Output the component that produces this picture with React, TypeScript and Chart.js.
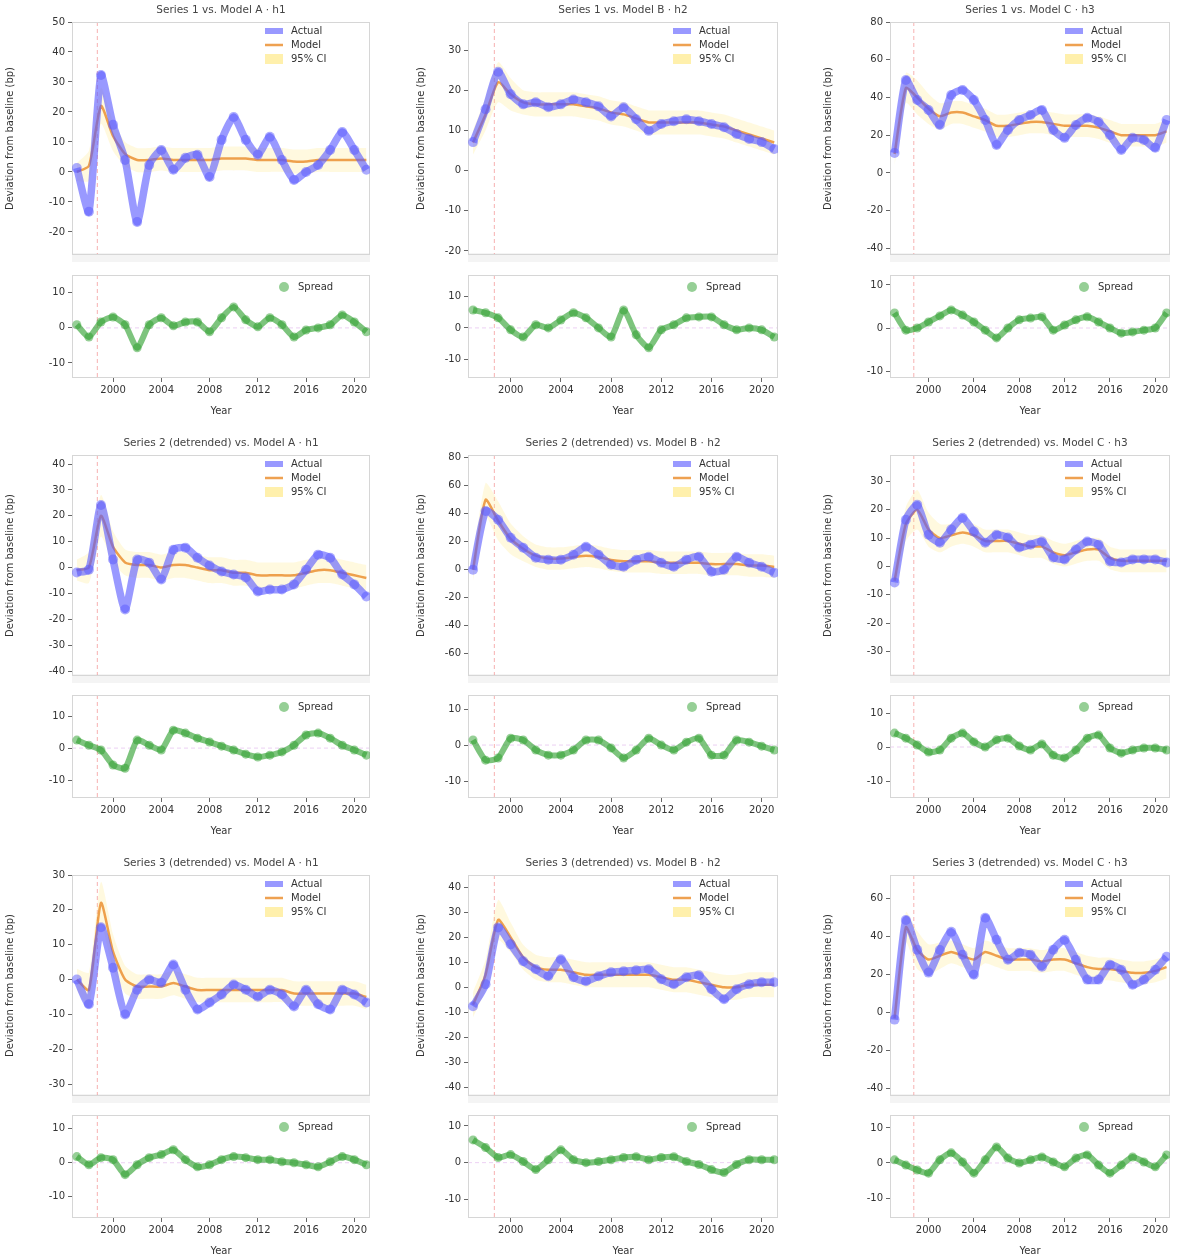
import React, { useEffect, useRef } from "react";
import { Chart, registerables } from "chart.js";
Chart.register(...registerables);

const FONT = "'DejaVu Sans', sans-serif";

// ---------- shared axis data ----------
const years = [1997, 1998, 1999, 2000, 2001, 2002, 2003, 2004, 2005, 2006, 2007, 2008, 2009, 2010, 2011, 2012, 2013, 2014, 2015, 2016, 2017, 2018, 2019, 2020, 2021];
const xTickYears = [2000, 2004, 2008, 2012, 2016, 2020];
const xBounds = [1996.6, 2021.3];
const eventYear = 1998.7;

const panelTitles = [
  "Series 1 vs. Model A · h1",
  "Series 1 vs. Model B · h2",
  "Series 1 vs. Model C · h3",
  "Series 2 (detrended) vs. Model A · h1",
  "Series 2 (detrended) vs. Model B · h2",
  "Series 2 (detrended) vs. Model C · h3",
  "Series 3 (detrended) vs. Model A · h1",
  "Series 3 (detrended) vs. Model B · h2",
  "Series 3 (detrended) vs. Model C · h3",
];
const yTitle = "Deviation from baseline (bp)";
const xTitle = "Year";
const topLegend = ["Actual", "Model", "95% CI"];
const bottomLegend = "Spread";

// ---------- per-panel values ----------
const actual11 = [1.3, -13.3, 32.3, 15.7, 4, -16.7, 2.3, 7.3, 0.7, 4.7, 5.7, -1.7, 10.7, 18.3, 10.7, 5.7, 11.7, 4, -2.7, 0, 2.3, 7.3, 13.3, 7.3, 0.7];
const model11 = [0, 2, 22, 12, 6, 4, 4, 4.5, 4, 4, 4, 4, 4.5, 4.5, 4.5, 4, 4, 4, 3.5, 3.5, 4, 4, 4, 4, 4];
const ci11 = [3, 5, 6, 5, 4, 4, 4, 4, 4, 4, 4, 4, 4, 4, 4, 4, 4, 4, 4, 4, 4, 4, 4, 4, 4];
const spread11 = [0.9, -2.6, 1.7, 3.1, 0.9, -5.7, 0.9, 2.9, 0.6, 1.7, 1.7, -1.1, 2.9, 6, 2.3, 0.3, 2.9, 0.9, -2.6, -0.6, 0, 0.9, 3.7, 1.7, -1.1];

const actual12 = [7.1, 15.3, 24.6, 19, 16.5, 17, 15.8, 16.5, 17.7, 17, 16, 13.5, 15.8, 12.8, 9.9, 11.6, 12.3, 12.8, 12.3, 11.6, 10.8, 9.1, 7.9, 7.1, 5.4];
const model12 = [7, 14, 22, 19, 17, 16.5, 16.5, 16.5, 16.5, 16, 15.5, 14.5, 14, 13, 12, 12, 12, 12, 12, 11.5, 11, 10, 9, 8, 7];
const ci12 = [3, 4, 5, 4, 3, 3, 3, 3, 3, 3, 3, 3, 3, 3, 3, 3, 3, 3, 3, 3, 3, 3, 3, 3, 3];
const spread12 = [5.7, 4.8, 3.2, -0.6, -2.9, 1, 0, 2.5, 4.8, 3.2, 0, -2.9, 5.7, -2.2, -6.3, -0.6, 1, 3.2, 3.5, 3.5, 1, -0.6, 0, -0.6, -2.9];

const actual13 = [10.6, 49.3, 38.7, 33.4, 25.4, 41.3, 44, 38.7, 28.1, 14.8, 22.8, 28.1, 30.7, 33.4, 22.8, 18.6, 25.4, 29.2, 27, 20.1, 12.2, 18.6, 17.5, 13.3, 28.1];
const model13 = [10, 45, 40, 34, 30, 32, 32, 30, 28, 25, 25, 26, 27, 27, 26, 25, 25, 25, 24, 22, 20, 20, 20, 20, 22];
const ci13 = [6, 8, 9, 8, 7, 6, 6, 6, 6, 6, 6, 6, 6, 6, 6, 6, 6, 6, 6, 6, 6, 6, 6, 6, 6];
const spread13 = [3.5, -0.5, 0, 1.4, 2.8, 4.2, 3, 1.4, -0.5, -2.3, 0, 1.9, 2.3, 2.6, -0.5, 0.7, 1.9, 2.6, 1.4, 0, -1.2, -0.9, -0.5, 0, 3.5];

const actual21 = [-1.9, -0.8, 24.2, 3.1, -16.2, 3.1, 1.9, -4.6, 6.9, 7.7, 3.8, 0.8, -1.5, -2.7, -3.8, -9.2, -8.5, -8.5, -6.5, -0.8, 5, 3.8, -2.7, -6.5, -11.2];
const model21 = [-1, 0, 20, 8, 2, 1, 1, 0, 1, 1, 0, -1, -1, -2, -2, -3, -3, -3, -3, -2, -1, -1, -2, -3, -4];
const ci21 = [4, 6, 8, 6, 5, 5, 5, 5, 5, 5, 5, 5, 5, 5, 5, 5, 5, 5, 5, 5, 5, 5, 5, 5, 5];
const spread21 = [2.5, 0.9, -0.6, -5.3, -6.3, 2.5, 0.9, -0.6, 5.6, 4.7, 3.1, 1.9, 0.6, -0.6, -1.9, -2.8, -2.2, -1.2, 0.9, 4.1, 4.7, 3.1, 0.9, -0.6, -2.2];

const actual22 = [0, 42, 35.7, 22.9, 15.7, 8.6, 7.1, 7.1, 10.7, 16.4, 10.7, 3.6, 2.1, 7.1, 9.3, 5, 2.1, 7.1, 9.3, -1.4, 0, 9.3, 5, 2.1, -2.1];
const model22 = [0, 50, 35, 22, 15, 10, 8, 8, 9, 10, 9, 7, 6, 6, 6, 5, 5, 5, 5, 4, 4, 4, 3, 3, 2];
const ci22 = [8, 12, 14, 11, 9, 8, 8, 8, 8, 8, 8, 8, 8, 8, 8, 8, 8, 8, 8, 8, 8, 8, 8, 8, 8];
const spread22 = [1.4, -4.2, -3.6, 1.9, 1.4, -1.4, -2.8, -2.8, -1.4, 1.4, 1.4, -0.8, -3.6, -1.4, 1.9, 0, -1.4, 0.8, 1.9, -2.8, -2.8, 1.4, 0.8, -0.3, -1.4];

const actual23 = [-5.6, 16.5, 21.8, 11.2, 8.4, 13, 17.2, 12.3, 8.4, 11.2, 10.2, 6.7, 7.7, 8.8, 3.2, 2.5, 6, 8.8, 7.7, 1.8, 1.4, 2.5, 2.5, 2.5, 1.4];
const model23 = [-5, 15, 20, 13, 10, 11, 12, 11, 9, 9, 9, 8, 7, 7, 5, 4, 5, 6, 6, 3, 2, 2, 2, 2, 2];
const ci23 = [4, 6, 7, 6, 5, 4, 4, 4, 4, 4, 4, 4, 4, 4, 4, 4, 4, 4, 4, 4, 4, 4, 4, 4, 4];
const spread23 = [4.1, 2.6, 0.6, -1.5, -0.9, 2.6, 4.1, 1.5, 0, 2.1, 2.6, 0.3, -0.9, 0.9, -2.4, -3.2, -0.9, 2.6, 3.5, -0.3, -1.8, -0.9, -0.3, -0.3, -0.9];

const actual31 = [0, -7.1, 15, 3.4, -10, -2.9, 0, -0.9, 4.3, -2.9, -8.6, -6.6, -4.3, -1.4, -2.9, -4.9, -2.9, -4.3, -7.7, -2.9, -7.1, -8.6, -2.9, -4.3, -6.6];
const model31 = [0, -3, 22, 8, 0, -2, -2, -2, -1, -2, -3, -3, -3, -3, -3, -3, -3, -3, -4, -4, -4, -4, -4, -4, -5];
const ci31 = [3, 5, 6, 5, 4, 3.5, 3.5, 3.5, 3.5, 3.5, 3.5, 3.5, 3.5, 3.5, 3.5, 3.5, 3.5, 3.5, 3.5, 3.5, 3.5, 3.5, 3.5, 3.5, 3.5];
const spread31 = [1.8, -0.6, 1.5, 0.9, -3.5, -0.6, 1.5, 2.4, 3.8, 0.9, -1.2, -0.6, 0.9, 1.8, 1.5, 0.9, 0.9, 0.3, 0, -0.6, -1.2, 0.3, 1.8, 0.9, -0.6];

const actual32 = [-7.6, 1.2, 24, 17.2, 10.4, 7.2, 4.4, 11.2, 4, 2.4, 4.4, 6, 6.4, 6.8, 7.2, 3.2, 1.2, 4, 4.8, -0.8, -4.8, -0.8, 1.2, 2, 2];
const model32 = [-7, 5, 27, 20, 12, 8, 7, 7, 6, 5, 5, 5, 5, 5, 5, 4, 3, 3, 2, 1, 0, 0, 1, 1, 1];
const ci32 = [5, 6, 8, 6, 5, 5, 5, 5, 5, 5, 5, 5, 5, 5, 5, 5, 5, 5, 5, 5, 5, 5, 5, 5, 5];
const spread32 = [6.2, 4.1, 1.4, 2.2, 0.3, -1.9, 0.8, 3.5, 0.8, 0, 0.3, 0.8, 1.4, 1.6, 0.8, 1.4, 1.6, 0.3, -0.5, -1.9, -2.7, -0.5, 0.8, 0.8, 0.8];

const actual33 = [-3.7, 48.9, 33.2, 21.1, 33, 42.6, 30.5, 20, 50, 38.4, 27.9, 31.6, 30.5, 24.2, 33.2, 38.4, 27.9, 17.4, 17.4, 25.3, 22.6, 14.7, 17.4, 22.6, 29.5];
const model33 = [-3, 45, 33, 28, 30, 32, 30, 28, 32, 30, 28, 28, 28, 27, 28, 28, 26, 24, 23, 23, 22, 21, 21, 22, 24];
const ci33 = [6, 8, 10, 8, 7, 6, 6, 6, 6, 6, 6, 6, 6, 6, 6, 6, 6, 6, 6, 6, 6, 6, 6, 6, 6];
const spread33 = [0.9, -0.6, -2, -2.9, 0.9, 2.9, 0.3, -2.9, 0.9, 4.6, 1.4, 0, 0.9, 1.7, 0.3, -1.1, 1.4, 2.3, -0.6, -2.9, -0.6, 1.7, 0.3, -1.1, 2.3];

// axis ranges per panel (row-major)
const topMin = [-27.7, -21, -43.5, -41.9, -76, -38.6, -33.4, -43.6, -44];
const topMax = [50, 37, 80, 43.5, 82, 39.3, 30, 45, 72.6];
const topStep = [10, 10, 20, 10, 20, 10, 10, 10, 20];
const botMin = [-14.3, -15.9, -11.6, -15.6, -14.7, -15, -16.2, -15.1, -15.7];
const botMax = [15.1, 16.8, 12.3, 16.6, 13.9, 15.3, 14, 13, 13.7];
const botStep = [10, 10, 10, 10, 10, 10, 10, 10, 10];

const panels = [
  { actual: actual11, model: model11, ci: ci11, spread: spread11 },
  { actual: actual12, model: model12, ci: ci12, spread: spread12 },
  { actual: actual13, model: model13, ci: ci13, spread: spread13 },
  { actual: actual21, model: model21, ci: ci21, spread: spread21 },
  { actual: actual22, model: model22, ci: ci22, spread: spread22 },
  { actual: actual23, model: model23, ci: ci23, spread: spread23 },
  { actual: actual31, model: model31, ci: ci31, spread: spread31 },
  { actual: actual32, model: model32, ci: ci32, spread: spread32 },
  { actual: actual33, model: model33, ci: ci33, spread: spread33 },
];

// ---------- layout ----------
const CELL_W = 400;
const CELL_H = 420;
const TOP_H = 265;
const BOT_H = 155;
const colPadLeft = [2, 13, 20];
const colAxisW = [70, 55, 70];
const colPadRight = [30, 22, 30];
const rowTopPad = [22, 35, 35];
const rowBotPad = [10, 8, 8];

const BLUE = "rgba(90,90,255,0.62)";
const ORANGE = "rgba(235,145,50,0.85)";
const BAND = "rgba(255,228,110,0.22)";
const GREEN = "rgba(45,160,45,0.62)";

function decoPlugin(kind: "top" | "bottom", title?: string) {
  return {
    id: "deco-" + kind,
    beforeDatasetsDraw(chart: any) {
      const { ctx, chartArea: a, scales } = chart;
      ctx.save();
      if (kind === "top") {
        ctx.fillStyle = "rgba(0,0,0,0.045)";
        ctx.fillRect(a.left, a.bottom - 2, a.right - a.left, 9);
      } else {
        const y0 = scales.y.getPixelForValue(0);
        ctx.strokeStyle = "rgba(200,120,220,0.35)";
        ctx.setLineDash([4, 3]);
        ctx.lineWidth = 1;
        ctx.beginPath();
        ctx.moveTo(a.left, y0);
        ctx.lineTo(a.right, y0);
        ctx.stroke();
      }
      const xe = scales.x.getPixelForValue(eventYear);
      ctx.strokeStyle = "rgba(240,100,100,0.5)";
      ctx.setLineDash([4, 3]);
      ctx.lineWidth = 1;
      ctx.beginPath();
      ctx.moveTo(xe, a.top);
      ctx.lineTo(xe, a.bottom);
      ctx.stroke();
      ctx.setLineDash([]);
      ctx.strokeStyle = "#d6d6d6";
      ctx.strokeRect(a.left + 0.5, a.top + 0.5, a.right - a.left - 1, a.bottom - a.top - 1);
      ctx.restore();
    },
    afterDraw(chart: any) {
      const { ctx, chartArea: a } = chart;
      ctx.save();
      ctx.font = "10px " + FONT;
      ctx.textBaseline = "middle";
      if (kind === "top") {
        if (title) {
          ctx.fillStyle = "#444";
          ctx.textAlign = "center";
          ctx.font = "10.5px " + FONT;
          ctx.fillText(title, (a.left + a.right) / 2, a.top - 12);
          ctx.font = "10px " + FONT;
        }
        const lx = a.right - 105;
        const ly = a.top + 9;
        ctx.textAlign = "left";
        topLegend.forEach((lab, i) => {
          const y = ly + i * 14;
          if (i === 0) {
            ctx.strokeStyle = BLUE;
            ctx.lineWidth = 6;
            ctx.beginPath();
            ctx.moveTo(lx, y);
            ctx.lineTo(lx + 18, y);
            ctx.stroke();
          } else if (i === 1) {
            ctx.strokeStyle = ORANGE;
            ctx.lineWidth = 2.5;
            ctx.beginPath();
            ctx.moveTo(lx, y);
            ctx.lineTo(lx + 18, y);
            ctx.stroke();
          } else {
            ctx.fillStyle = "rgba(255,225,90,0.5)";
            ctx.fillRect(lx, y - 5, 18, 10);
          }
          ctx.fillStyle = "#333";
          ctx.fillText(lab, lx + 26, y);
        });
      } else {
        const cx = a.right - 86;
        const cy = a.top + 12;
        ctx.fillStyle = "rgba(45,160,45,0.5)";
        ctx.beginPath();
        ctx.arc(cx, cy, 5, 0, Math.PI * 2);
        ctx.fill();
        ctx.fillStyle = "#333";
        ctx.textAlign = "left";
        ctx.fillText(bottomLegend, cx + 14, cy);
      }
      ctx.restore();
    },
  };
}

function Panel({ idx }: { idx: number }) {
  const topRef = useRef<HTMLCanvasElement>(null);
  const botRef = useRef<HTMLCanvasElement>(null);
  const r = Math.floor(idx / 3);
  const c = idx % 3;

  useEffect(() => {
    const p = panels[idx];
    const pts = (arr: number[]) => years.map((x, i) => ({ x, y: arr[i] }));
    const hi = years.map((x, i) => ({ x, y: p.model[i] + p.ci[i] }));
    const lo = years.map((x, i) => ({ x, y: p.model[i] - p.ci[i] }));
    const yAxisCommon = {
      position: "left" as const,
      afterFit: (s: any) => {
        s.width = colAxisW[c];
      },
      grid: { drawOnChartArea: false, drawTicks: true, tickLength: 4, color: "#666" },
      border: { display: false },
    };

    const top = new Chart(topRef.current!, {
      type: "line",
      data: {
        datasets: [
          {
            label: topLegend[0],
            data: pts(p.actual),
            borderColor: BLUE,
            borderWidth: 7.5,
            pointRadius: 5,
            pointBackgroundColor: "rgba(90,90,255,0.5)",
            pointBorderWidth: 0,
            tension: 0.2,
            fill: false,
          },
          {
            label: topLegend[1],
            data: pts(p.model),
            borderColor: ORANGE,
            borderWidth: 2.5,
            pointRadius: 0,
            tension: 0.2,
            fill: false,
          },
          {
            label: topLegend[2],
            data: hi,
            borderWidth: 0,
            pointRadius: 0,
            tension: 0.2,
            backgroundColor: BAND,
            fill: "+1",
          },
          {
            label: "lo",
            data: lo,
            borderWidth: 0,
            pointRadius: 0,
            tension: 0.2,
            fill: false,
          },
        ],
      },
      options: {
        animation: false,
        responsive: false,
        devicePixelRatio: 1,
        events: [],
        layout: { padding: { top: rowTopPad[r], bottom: rowBotPad[r], left: colPadLeft[c], right: colPadRight[c] } },
        plugins: { legend: { display: false }, tooltip: { enabled: false }, title: { display: false } },
        scales: {
          x: { type: "linear", min: xBounds[0], max: xBounds[1], display: false },
          y: {
            ...yAxisCommon,
            min: topMin[idx],
            max: topMax[idx],
            ticks: { stepSize: topStep[idx], includeBounds: false, font: { size: 10, family: FONT }, color: "#333", padding: 3 },
            title: { display: true, text: yTitle, font: { size: 10, family: FONT }, color: "#333", padding: { top: 2, bottom: 2 } },
          },
        },
      },
      plugins: [decoPlugin("top", panelTitles[idx])],
    } as any);

    const bot = new Chart(botRef.current!, {
      type: "line",
      data: {
        datasets: [
          {
            label: bottomLegend,
            data: pts(p.spread),
            borderColor: GREEN,
            borderWidth: 6,
            pointRadius: 4.5,
            pointBackgroundColor: "rgba(45,160,45,0.5)",
            pointBorderWidth: 0,
            tension: 0.2,
            fill: false,
          },
        ],
      },
      options: {
        animation: false,
        responsive: false,
        devicePixelRatio: 1,
        events: [],
        layout: { padding: { top: 10, bottom: 0, left: colPadLeft[c], right: colPadRight[c] } },
        plugins: { legend: { display: false }, tooltip: { enabled: false } },
        scales: {
          x: {
            type: "linear",
            min: xBounds[0],
            max: xBounds[1],
            afterBuildTicks: (s: any) => {
              s.ticks = xTickYears.map((v) => ({ value: v }));
            },
            afterFit: (s: any) => {
              s.height = 42;
            },
            ticks: { callback: (v: any) => String(v), font: { size: 10, family: FONT }, color: "#333", padding: 2, maxRotation: 0 },
            grid: { drawOnChartArea: false, drawTicks: true, tickLength: 4, color: "#666" },
            border: { display: false },
            title: { display: true, text: xTitle, font: { size: 10, family: FONT }, color: "#333", padding: { top: 2, bottom: 3 } },
          },
          y: {
            ...yAxisCommon,
            min: botMin[idx],
            max: botMax[idx],
            ticks: { stepSize: botStep[idx], includeBounds: false, font: { size: 10, family: FONT }, color: "#333", padding: 3 },
          },
        },
      },
      plugins: [decoPlugin("bottom")],
    } as any);

    return () => {
      top.destroy();
      bot.destroy();
    };
  }, [idx]);

  return (
    <div style={{ position: "absolute", left: c * CELL_W, top: r * CELL_H, width: CELL_W, height: CELL_H }}>
      <canvas ref={topRef} width={CELL_W} height={TOP_H} style={{ position: "absolute", left: 0, top: 0, width: CELL_W, height: TOP_H }} />
      <canvas ref={botRef} width={CELL_W} height={BOT_H} style={{ position: "absolute", left: 0, top: TOP_H, width: CELL_W, height: BOT_H }} />
    </div>
  );
}

export default function App() {
  return (
    <div style={{ position: "absolute", left: 0, top: 0, width: 1200, height: 1260, background: "#fff", fontFamily: FONT }}>
      {panels.map((_, i) => (
        <Panel key={i} idx={i} />
      ))}
    </div>
  );
}
